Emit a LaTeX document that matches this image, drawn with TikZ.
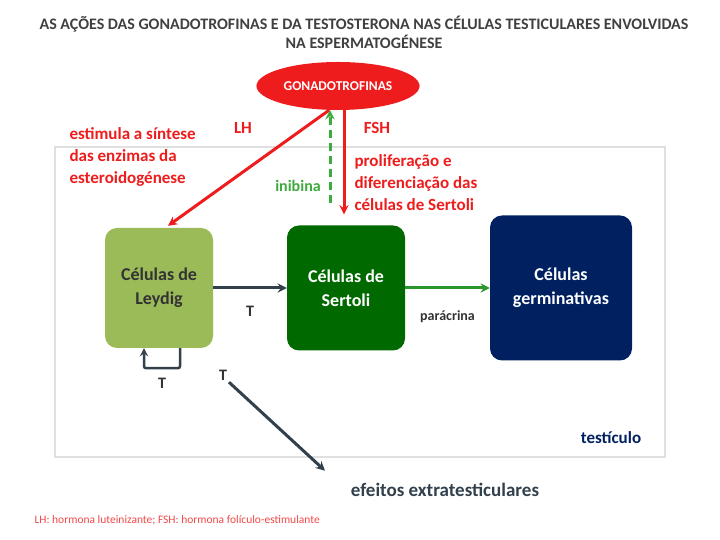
\documentclass[tikz,border=0pt]{standalone}
\usepackage{fontspec}
\setmainfont{Carlito}
\usetikzlibrary{shapes.geometric, arrows}
\definecolor{leydiggreen}{RGB}{155,187,89}
\definecolor{sertoligreen}{RGB}{0,105,0}
\definecolor{germnavy}{RGB}{0,32,96}
\definecolor{slategray}{RGB}{50,64,76}
\definecolor{hormonered}{RGB}{238,28,28}
\definecolor{inibgreen}{RGB}{60,170,60}
\tikzstyle{cell} = [rectangle, rounded corners=12pt, align=center, font=\fontsize{18}{24}\selectfont\bfseries]
\tikzstyle{hormone} = [ellipse, fill=hormonered, text=white, minimum width=150pt, minimum height=48pt, font=\fontsize{13.5}{16}\selectfont\bfseries]
\tikzstyle{redlabel} = [text=hormonered, align=left, font=\fontsize{17}{22}\selectfont\bfseries]
\tikzstyle{darklabel} = [text=black!80, font=\fontsize{16}{19}\selectfont\bfseries]
\tikzstyle{arrow} = [line width=3pt,->,>=stealth]

\begin{document}
\begin{tikzpicture}[x=1pt, y=1pt]
\useasboundingbox (0,0) rectangle (720,540);

% title
\node (title) [align=center, text=black!75, font=\fontsize{16}{19}\selectfont\bfseries] at (364,507.5) {AS AÇÕES DAS GONADOTROFINAS E DA TESTOSTERONA NAS CÉLULAS TESTICULARES ENVOLVIDAS\\NA ESPERMATOGÉNESE};

% testicle frame
\draw [draw=black!12, line width=1.5pt] (55,83) rectangle (665,393);
\node (testis) [text=germnavy, font=\fontsize{17}{20}\selectfont\bfseries] at (611,102) {testículo};

% nodes
\node (gonad) [hormone] at (338,454) {GONADOTROFINAS};
\node (leydig) [cell, fill=leydiggreen, text=black!80, minimum width=108pt, minimum height=120pt] at (159,252) {Células de\\Leydig};
\node (sertoli) [cell, fill=sertoligreen, text=white, minimum width=118pt, minimum height=125pt, xshift=187pt] at (leydig) {Células de\\Sertoli};
\node (germ) [cell, fill=germnavy, text=white, minimum width=142pt, minimum height=145pt, xshift=215pt] at (sertoli) {Células\\germinativas};
\node (extra) [text=slategray, font=\fontsize{19}{22}\selectfont\bfseries] at (445,50) {efeitos extratesticulares};

% labels
\node (lh) [redlabel] at (243,412) {LH};
\node (fsh) [redlabel] at (377,412) {FSH};
\node (steroid) [redlabel, anchor=west] at (66,383) {estimula a síntese\\das enzimas da\\esteroidogénese};
\node (prolif) [redlabel, anchor=west] at (351,357) {proliferação e\\diferenciação das\\células de Sertoli};
\node (inib) [text=inibgreen, font=\fontsize{16}{19}\selectfont\bfseries] at (298,354) {inibina};

% arrows
\draw [arrow, hormonered] (gonad.250) -- ([xshift=9pt, yshift=2pt]leydig.north);
\draw [arrow, hormonered] ([xshift=6pt]gonad.south) -- ([xshift=-2pt, yshift=11pt]sertoli.north);
\draw [arrow, inibgreen, dashed, dash pattern=on 8pt off 5pt] ([xshift=-16pt, yshift=22pt]sertoli.north) -- ([xshift=-8pt]gonad.south);
\draw [arrow, slategray] (leydig) -- node [darklabel, yshift=-23pt] {T} (sertoli);
\draw [arrow, inibgreen!70!sertoligreen] (sertoli) -- node [darklabel, yshift=-29pt, font=\fontsize{14}{17}\selectfont\bfseries] {parácrina} (germ);
\draw [arrow, slategray, line width=2.5pt, rounded corners=2pt] ([xshift=21pt]leydig.south) -- ++(0,-20) -| node [darklabel, pos=0.25, yshift=-15pt] {T} ([xshift=-15pt]leydig.south);
\draw [arrow, slategray] ([xshift=70pt, yshift=-34pt]leydig.south) node [darklabel, above left=-3pt] {T} -- ([xshift=-120pt, yshift=9pt]extra.north);

% footer
\node (footer) [anchor=west, text=hormonered!80, font=\fontsize{11.5}{14}\selectfont] at (31,20) {LH: hormona luteinizante; FSH: hormona folículo-estimulante};
\end{tikzpicture}
\end{document}
